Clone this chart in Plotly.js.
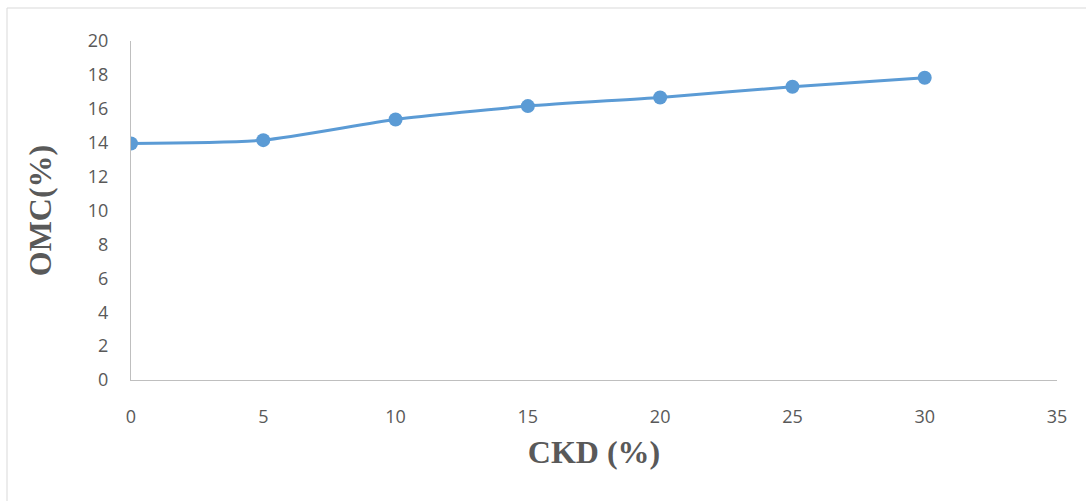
<!DOCTYPE html>
<html>
<head>
<meta charset="utf-8">
<script src="https://cdn.plot.ly/plotly-3.0.1.min.js"></script>
<style>html,body{margin:0;padding:0;background:#fff;}#chart{width:1086px;height:501px;}</style>
</head>
<body>
<div id="chart"></div>
<script>
const ckd = [0, 5, 10, 15, 20, 25, 30];
const omc = [13.95, 14.15, 15.37, 16.16, 16.67, 17.3, 17.83];
const xTicks = [0, 5, 10, 15, 20, 25, 30, 35];
const yTicks = [0, 2, 4, 6, 8, 10, 12, 14, 16, 18, 20];

const trace = {
  x: ckd, y: omc, type: 'scatter', mode: 'lines+markers',
  line: {color: '#5B9BD5', width: 3, shape: 'spline', smoothing: 0.6},
  marker: {color: '#5B9BD5', size: 14},
  hoverinfo: 'skip'
};
const tickFont = {family: 'Open Sans, sans-serif', size: 18, color: '#595959'};
const titleFont = {family: 'Liberation Serif, Times New Roman, serif', size: 32, color: '#595959', weight: 'bold'};
const layout = {
  width: 1086, height: 501,
  margin: {l: 131, r: 29, t: 41, b: 121},
  paper_bgcolor: '#fff', plot_bgcolor: '#fff',
  showlegend: false,
  xaxis: {
    range: [0, 35], tickvals: xTicks, ticktext: xTicks.map(String),
    showgrid: false, zeroline: false, showline: true, linecolor: '#BFBFBF', linewidth: 1,
    ticks: '', tickfont: tickFont, ticklabelstandoff: 20,
    title: {text: '<b>CKD (%)</b>', font: titleFont, standoff: 14}
  },
  yaxis: {
    range: [0, 20], tickvals: yTicks, ticktext: yTicks.map(String),
    showgrid: false, zeroline: false, showline: true, linecolor: '#BFBFBF', linewidth: 1,
    ticks: '', tickfont: tickFont, ticklabelstandoff: 18,
    title: {text: '<b>OMC(%)</b>', font: titleFont, standoff: 26}
  },
  shapes: [
    {type: 'line', xref: 'paper', yref: 'paper', x0: -0.1339, x1: 1.1, y0: 1.0973, y1: 1.0973, line: {color: '#D9D9D9', width: 1}},
    {type: 'line', xref: 'paper', yref: 'paper', x0: -0.1339, x1: -0.1339, y0: 1.0973, y1: -0.4, line: {color: '#D9D9D9', width: 1}}
  ]
};
Plotly.newPlot('chart', [trace], layout, {displayModeBar: false, staticPlot: true});
</script>
</body>
</html>
